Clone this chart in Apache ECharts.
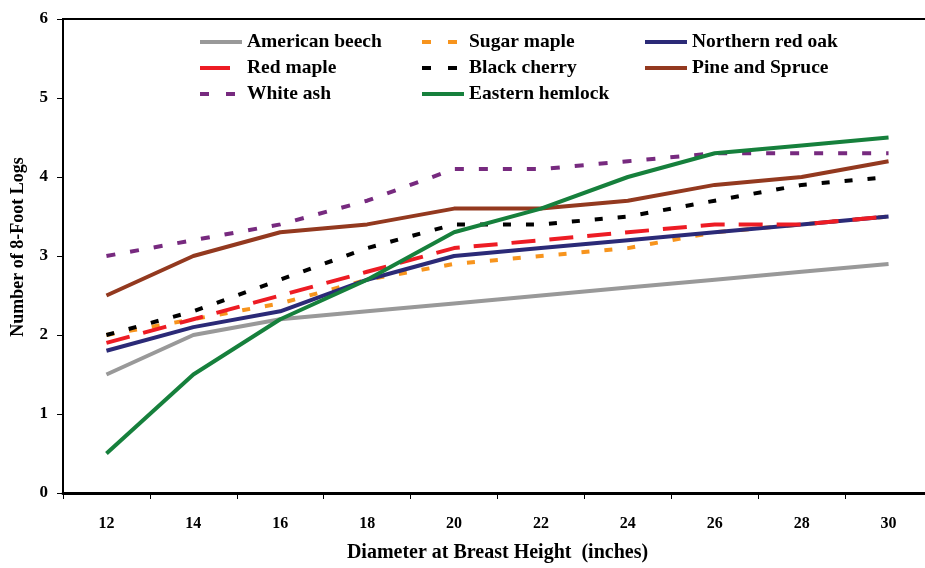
<!DOCTYPE html>
<html>
<head>
<meta charset="utf-8">
<script src="https://cdn.jsdelivr.net/npm/echarts@6/dist/echarts.min.js"></script>
<style>
html,body{margin:0;padding:0;background:#fff;}
#c{width:925px;height:568px;}
</style>
</head>
<body>
<div id="c"></div>
<script>
const categories = ['12','14','16','18','20','22','24','26','28','30'];
const americanBeech   = [1.5, 2.0, 2.2, 2.3, 2.4, 2.5, 2.6, 2.7, 2.8, 2.9];
const sugarMaple      = [2.0, 2.2, 2.4, 2.7, 2.9, 3.0, 3.1, 3.3, 3.4, 3.5];
const northernRedOak  = [1.8, 2.1, 2.3, 2.7, 3.0, 3.1, 3.2, 3.3, 3.4, 3.5];
const redMaple        = [1.9, 2.2, 2.5, 2.8, 3.1, 3.2, 3.3, 3.4, 3.4, 3.5];
const blackCherry     = [2.0, 2.3, 2.7, 3.1, 3.4, 3.4, 3.5, 3.7, 3.9, 4.0];
const pineAndSpruce   = [2.5, 3.0, 3.3, 3.4, 3.6, 3.6, 3.7, 3.9, 4.0, 4.2];
const whiteAsh        = [3.0, 3.2, 3.4, 3.7, 4.1, 4.1, 4.2, 4.3, 4.3, 4.3];
const easternHemlock  = [0.5, 1.5, 2.2, 2.7, 3.3, 3.6, 4.0, 4.3, 4.4, 4.5];
const yTicks = [0, 1, 2, 3, 4, 5, 6];

const FONT = '"Liberation Serif", "Times New Roman", serif';
const seriesDefs = [
  {name:'American beech',   data:americanBeech,  color:'#999999', dash:'solid', lx:198, row:0},
  {name:'Sugar maple',      data:sugarMaple,     color:'#F7941D', dash:[8,15],  lx:420, row:0},
  {name:'Northern red oak', data:northernRedOak, color:'#2B2A77', dash:'solid', lx:643, row:0},
  {name:'Red maple',        data:redMaple,       color:'#ED1C24', dash:[24,14], lx:198, row:1},
  {name:'Black cherry',     data:blackCherry,    color:'#000000', dash:[8,15],  lx:420, row:1},
  {name:'Pine and Spruce',  data:pineAndSpruce,  color:'#93391F', dash:'solid', lx:643, row:1},
  {name:'White ash',        data:whiteAsh,       color:'#772A7F', dash:[9,15],  lx:198, row:2},
  {name:'Eastern hemlock',  data:easternHemlock, color:'#16803C', dash:'solid', lx:420, row:2}
];
const legendDash = {'Red maple':[30,20], 'Sugar maple':[9,17], 'Black cherry':[9,17], 'White ash':[9,17]};
const rowY = [42, 68, 94];

const chart = echarts.init(document.getElementById('c'), null, {renderer:'canvas'});
chart.setOption({
  animation:false,
  backgroundColor:'#fff',
  grid:{left:63, width:869, top:19, bottom:75, outerBoundsMode:'none', containLabel:false,
        show:true, borderColor:'#000', borderWidth:2, backgroundColor:'transparent'},
  legend: seriesDefs.map(s => ({
    data:[s.name], left:s.lx, top:rowY[s.row]-10, padding:0,
    itemWidth:42, itemHeight:14, selectedMode:false,
    itemStyle:{opacity:0},
    lineStyle:{type: legendDash[s.name] || s.dash, width:4, cap:'butt'},
    textStyle:{fontFamily:FONT, fontWeight:'bold', fontSize:19.5, color:'#000'}
  })),
  xAxis:{
    type:'category', data:categories, boundaryGap:true,
    name:'Diameter at Breast Height  (inches)', nameLocation:'middle', nameGap:50,
    nameTextStyle:{fontFamily:FONT, fontWeight:'bold', fontSize:20, color:'#000'},
    axisLine:{lineStyle:{color:'#000', width:3}},
    axisTick:{show:true, inside:false, length:6, alignWithLabel:false, lineStyle:{color:'#000', width:1}},
    axisLabel:{fontFamily:FONT, fontWeight:'bold', fontSize:16, color:'#000', margin:23},
    splitLine:{show:false}
  },
  yAxis:{
    type:'value', min:yTicks[0], max:yTicks[yTicks.length-1], interval:1,
    name:'Number of 8-Foot Logs', nameLocation:'middle', nameGap:36, nameRotate:90,
    nameTextStyle:{fontFamily:FONT, fontWeight:'bold', fontSize:18, color:'#000', padding:[0,0,0,18]},
    axisLine:{show:true, lineStyle:{color:'#000', width:2}},
    axisTick:{show:true, inside:false, length:6, lineStyle:{color:'#000', width:1}},
    axisLabel:{fontFamily:FONT, fontWeight:'bold', fontSize:17, color:'#000', margin:15},
    splitLine:{show:false}
  },
  series: seriesDefs.map(s => ({
    name:s.name, type:'line', data:s.data, symbol:'none', showSymbol:false,
    color:s.color,
    lineStyle:{color:s.color, width:4, type:s.dash, cap:'butt'},
    itemStyle:{color:s.color}
  }))
});
</script>
</body>
</html>
